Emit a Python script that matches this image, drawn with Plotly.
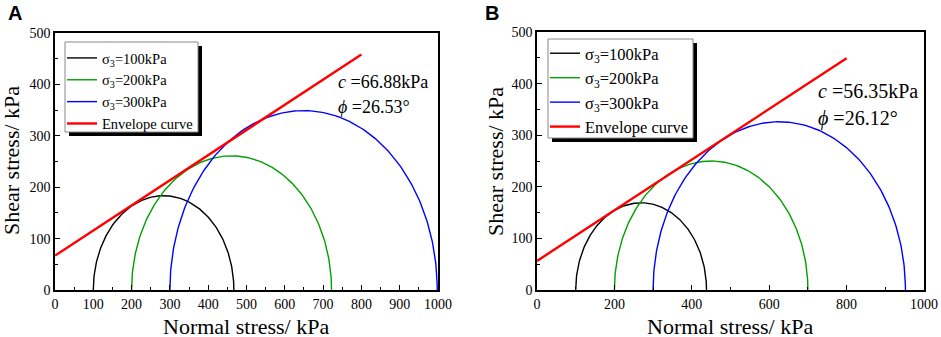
import numpy as np
import plotly.graph_objects as go

# ---- data ----
sigma3_A = [100, 200, 300]
sigma1_A = [467, 722, 998]
sigma3_B = [100, 200, 300]
sigma1_B = [438, 700, 952]
env_x_A = [0, 800]
env_y_A = [66.88, 458]
env_x_B = [0, 800]
env_y_B = [56.35, 449]
labels = ["σ<sub>3</sub>=100kPa", "σ<sub>3</sub>=200kPa", "σ<sub>3</sub>=300kPa", "Envelope curve"]
colors = ["#000000", "#00a000", "#0000ff", "#ff0000"]
c_A, phi_A = "66.88", "26.53"
c_B, phi_B = "56.35", "26.12"
x_title = "Normal stress/ kPa"
y_title = "Shear stress/ kPa"

FONT = "Liberation Serif, Times New Roman, serif"
W, H = 941, 337

fig = go.Figure()

def semicircle(s3, s1):
    c = (s1 + s3) / 2.0
    r = (s1 - s3) / 2.0
    t = np.linspace(np.pi, 0, 181)
    return c + r * np.cos(t), r * np.sin(t)

for s3s, s1s, ex, ey, xa, ya, lg in [
        (sigma3_A, sigma1_A, env_x_A, env_y_A, "x", "y", "legend"),
        (sigma3_B, sigma1_B, env_x_B, env_y_B, "x2", "y2", "legend2")]:
    for i, (s3, s1) in enumerate(zip(s3s, s1s)):
        x, y = semicircle(s3, s1)
        fig.add_trace(go.Scatter(x=x, y=y, mode="lines", name=labels[i],
                                 line=dict(color=colors[i], width=1.4),
                                 xaxis=xa, yaxis=ya, legend=lg))
    fig.add_trace(go.Scatter(x=ex, y=ey, mode="lines", name=labels[3],
                             line=dict(color=colors[3], width=2.4),
                             xaxis=xa, yaxis=ya, legend=lg))

def px_x(p):
    return p / W

def px_y(p):
    return 1 - p / H

axis_common = dict(showgrid=False, zeroline=False, showline=True, linecolor="black",
                   linewidth=1.5, mirror=True, ticks="inside", ticklen=5, tickwidth=1.2,
                   tickcolor="black", automargin=False,
                   tickfont=dict(family=FONT, size=14, color="black"))
minor_common = dict(ticks="inside", ticklen=3, tickcolor="black", tickwidth=1)

fig.update_layout(
    width=W, height=H, margin=dict(l=0, r=0, t=0, b=0, autoexpand=False),
    font=dict(family=FONT, color="black"),
    paper_bgcolor="white", plot_bgcolor="white", showlegend=True,
    xaxis=dict(domain=[px_x(55), px_x(438)], range=[0, 1000], dtick=100, anchor="y",
               minor=dict(dtick=50, **minor_common), **axis_common),
    yaxis=dict(domain=[px_y(290), px_y(33)], range=[0, 500], dtick=100, anchor="x",
               minor=dict(dtick=50, **minor_common), **axis_common),
    xaxis2=dict(domain=[px_x(537), px_x(924)], range=[0, 1000], dtick=200, anchor="y2",
                minor=dict(dtick=100, **minor_common), **axis_common),
    yaxis2=dict(domain=[px_y(290), px_y(32)], range=[0, 500], dtick=100, anchor="x2",
                minor=dict(dtick=50, **minor_common), **axis_common),
    legend=dict(x=px_x(62), y=px_y(42), xanchor="left", yanchor="top",
                bgcolor="rgba(0,0,0,0)", borderwidth=0,
                font=dict(family=FONT, size=14.5, color="black"),
                tracegroupgap=0, itemwidth=30),
    legend2=dict(x=px_x(545), y=px_y(36), xanchor="left", yanchor="top",
                 bgcolor="rgba(0,0,0,0)", borderwidth=0,
                 font=dict(family=FONT, size=16.5, color="black"),
                 tracegroupgap=0, itemwidth=30),
)

# legend frames with drop shadow
shapes = []
for (l, t, r, b) in [(65, 42, 198, 132), (548, 39, 693, 138)]:
    shapes.append(dict(type="rect", xref="paper", yref="paper",
                       x0=px_x(l + 4), x1=px_x(r + 4), y0=px_y(b + 4), y1=px_y(t + 4),
                       fillcolor="black", line=dict(width=0), layer="above"))
    shapes.append(dict(type="rect", xref="paper", yref="paper",
                       x0=px_x(l), x1=px_x(r), y0=px_y(b), y1=px_y(t),
                       fillcolor="white", line=dict(color="#888888", width=1), layer="above"))
fig.update_layout(shapes=shapes)

def txt(text, x, y, size, xanchor="left", yanchor="middle", angle=0, family=FONT, **kw):
    return dict(text=text, x=x, y=y, xref="paper", yref="paper",
                xanchor=xanchor, yanchor=yanchor, showarrow=False, textangle=angle,
                font=dict(family=family, size=size, color="black"), **kw)

ann = [
    txt("<i>c</i> =" + c_A + "kPa", px_x(336), px_y(82), 18),
    txt("<i>ϕ</i> =" + phi_A + "°", px_x(336), px_y(107), 18),
    txt("<i>c</i> =" + c_B + "kPa", px_x(816), px_y(91), 20),
    txt("<i>ϕ</i> =" + phi_B + "°", px_x(816), px_y(118), 20),
    txt("<b>A</b>", px_x(6), px_y(0), 20, yanchor="top", family="Liberation Sans, Arial, sans-serif"),
    txt("<b>B</b>", px_x(483), px_y(0), 20, yanchor="top", family="Liberation Sans, Arial, sans-serif"),
    txt(x_title, px_x(246), px_y(326), 22, xanchor="center", height=20),
    txt(x_title, px_x(730), px_y(326), 22, xanchor="center", height=20),
    txt(y_title, px_x(12), px_y(161), 22, xanchor="center", angle=-90),
    txt(y_title, px_x(496), px_y(161), 22, xanchor="center", angle=-90),
]
fig.update_layout(annotations=ann)

fig.write_html("out.html", config={"displayModeBar": False},
               post_script="document.body.style.margin='0px';")
